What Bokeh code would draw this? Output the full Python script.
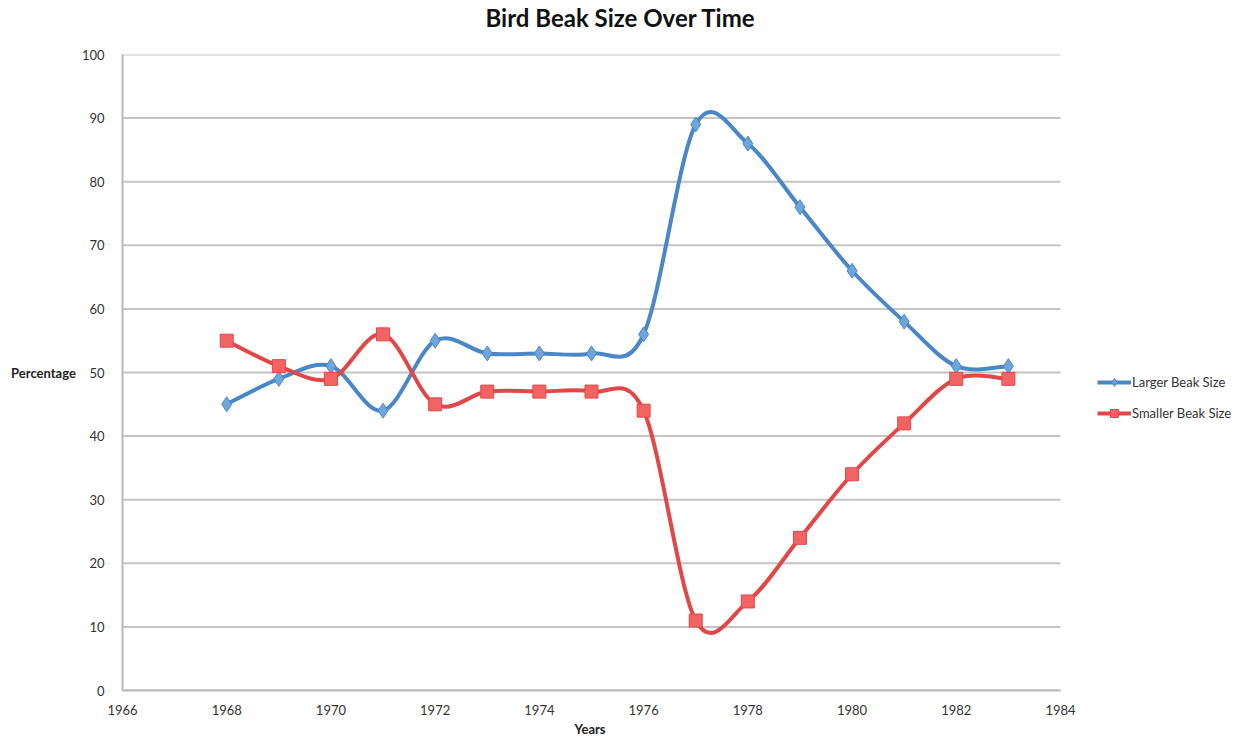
import numpy as np
from bokeh.plotting import figure
from bokeh.models import Range1d, ColumnDataSource, Legend, LegendItem, FixedTicker, Title
from bokeh.embed import file_html
from bokeh.resources import INLINE

# ---- data ----
years = [1968, 1969, 1970, 1971, 1972, 1973, 1974, 1975, 1976, 1977, 1978, 1979, 1980, 1981, 1982, 1983]
larger_beak = [45, 49, 51, 44, 55, 53, 53, 53, 56, 89, 86, 76, 66, 58, 51, 51]
smaller_beak = [55, 51, 49, 56, 45, 47, 47, 47, 44, 11, 14, 24, 34, 42, 49, 49]
x_ticks = [1966, 1968, 1970, 1972, 1974, 1976, 1978, 1980, 1982, 1984]
y_ticks = [0, 10, 20, 30, 40, 50, 60, 70, 80, 90, 100]
series_names = ["Larger Beak Size", "Smaller Beak Size"]
title_text = "Bird Beak Size Over Time"
x_label = "Years"
y_label = "Percentage"

FONT = "Lato"
BLUE = "#4a87c6"
BLUE_FILL = "#6ea6dc"
RED = "#e04848"
RED_FILL = "#f26464"

# layout (pixels)
LEFT, TOP, BOTTOM = 122, 54, 50
PLOT_RIGHT = 1060          # where the axis ends
W, H = 1249, 740


def smooth_segments(xs, ys):
    """Bezier control points (Catmull-Rom style) for a smoothed line through the data."""
    xs = np.asarray(xs, float)
    ys = np.asarray(ys, float)
    xp = np.concatenate([[xs[0]], xs, [xs[-1]]])
    yp = np.concatenate([[ys[0]], ys, [ys[-1]]])
    n = len(xs)
    i = np.arange(n - 1)
    return dict(
        x0=xp[i + 1], y0=yp[i + 1], x1=xp[i + 2], y1=yp[i + 2],
        cx0=xp[i + 1] + (xp[i + 2] - xp[i]) / 6.0,
        cy0=yp[i + 1] + (yp[i + 2] - yp[i]) / 6.0,
        cx1=xp[i + 2] - (xp[i + 3] - xp[i + 1]) / 6.0,
        cy1=yp[i + 2] - (yp[i + 3] - yp[i + 1]) / 6.0,
    )


# frame extends to the right edge so the legend can sit inside it;
# the x range is widened so that x_ticks[0]..x_ticks[-1] span LEFT..PLOT_RIGHT
x0, x1 = x_ticks[0], x_ticks[-1]
x_end = x0 + (x1 - x0) * (W - LEFT) / (PLOT_RIGHT - LEFT)

p = figure(
    width=W, height=H,
    min_border_left=LEFT, min_border_right=0, min_border_top=TOP, min_border_bottom=BOTTOM,
    x_range=Range1d(x0, x_end), y_range=Range1d(y_ticks[0], y_ticks[-1]),
    output_backend="svg", toolbar_location=None,
    background_fill_color="white", border_fill_color="white",
)
p.outline_line_color = None

# spacer between frame and main title, then the main title on top
p.add_layout(Title(text=" ", text_font_size="2px", standoff=14), "above")
p.add_layout(Title(
    text=title_text, align="left", offset=363, vertical_align="top", standoff=5,
    text_font=FONT, text_font_size="24px", text_font_style="bold", text_color="#111111",
), "above")

# axes
for ax in (p.xaxis[0], p.yaxis[0]):
    ax.major_tick_line_color = None
    ax.minor_tick_line_color = None
    ax.axis_line_color = "#b8b8b8"
    ax.axis_line_width = 2
    ax.major_label_text_font = FONT
    ax.major_label_text_font_size = "13px"
    ax.major_label_text_color = "#333333"
    ax.axis_label_text_font = FONT
    ax.axis_label_text_font_size = "13px"
    ax.axis_label_text_font_style = "bold"
    ax.axis_label_text_color = "#222222"

p.xaxis.ticker = FixedTicker(ticks=x_ticks)
p.xaxis.bounds = (x0, x1)
p.yaxis.ticker = FixedTicker(ticks=y_ticks)
p.xaxis.major_label_standoff = 8
p.yaxis.major_label_standoff = 12
p.yaxis.axis_label = y_label
p.yaxis.axis_label_orientation = "horizontal"
p.yaxis.axis_label_standoff = 3

# x axis title centred under the axis span
p.add_layout(Title(
    text=x_label, align="left", offset=591 - LEFT - 17, standoff=2,
    text_font=FONT, text_font_size="13px", text_font_style="bold", text_color="#222222",
), "below")

# horizontal gridlines limited to the axis span
p.xgrid.grid_line_color = None
p.ygrid.grid_line_color = None
p.segment(x0=[x0] * len(y_ticks), y0=y_ticks, x1=[x1] * len(y_ticks), y1=y_ticks,
          line_color="#c4c4c4", line_width=2, level="underlay")

# series
colors = [(BLUE, BLUE_FILL, "diamond", 15), (RED, RED_FILL, "square", 13)]
items = []
for name, vals, (lc, fc, mk, sz) in zip(series_names, [larger_beak, smaller_beak], colors):
    src = ColumnDataSource(smooth_segments(years, vals))
    curve = p.bezier(x0="x0", y0="y0", x1="x1", y1="y1", cx0="cx0", cy0="cy0", cx1="cx1", cy1="cy1",
                     source=src, line_color=lc, line_width=4)
    sc = p.scatter(years, vals, marker=mk, size=sz, fill_color=fc, line_color=lc, line_width=1)
    items.append(LegendItem(label=name, renderers=[curve, sc], index=0))

legend = Legend(
    items=items, location=(975, 267),
    glyph_width=34, glyph_height=20, spacing=11, label_standoff=1,
    padding=0, margin=0, border_line_color=None, background_fill_alpha=0,
    label_text_font=FONT, label_text_font_size="13px", label_text_color="#333333",
)
p.add_layout(legend, "center")

open("out.html", "w").write(file_html(p, INLINE))
